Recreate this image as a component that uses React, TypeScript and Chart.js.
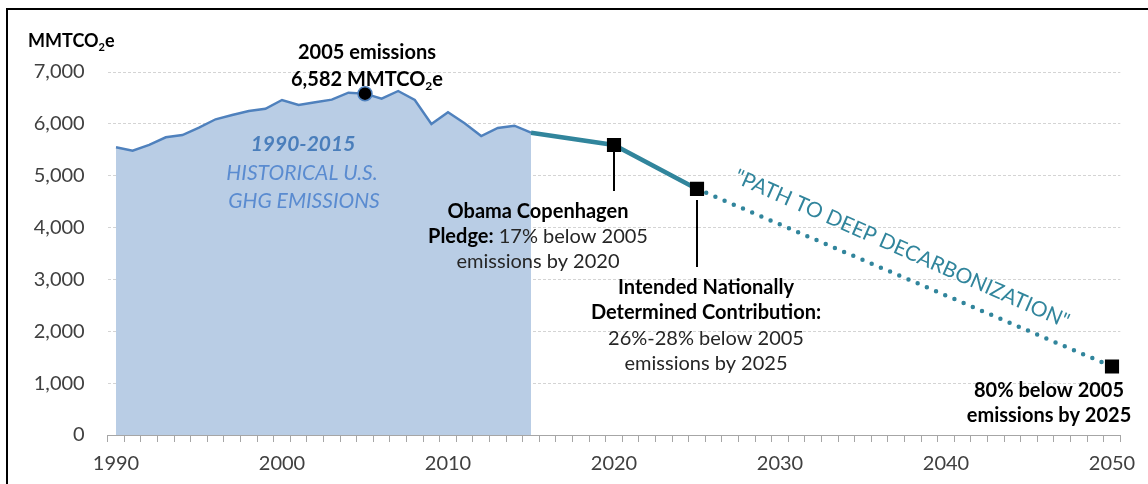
import React, { useEffect, useRef } from "react";
import { Chart, registerables } from "chart.js";

Chart.register(...registerables);

// ---------- data ----------
const histYears = [1990, 1991, 1992, 1993, 1994, 1995, 1996, 1997, 1998, 1999, 2000, 2001, 2002, 2003, 2004, 2005, 2006, 2007, 2008, 2009, 2010, 2011, 2012, 2013, 2014, 2015];
const histValues = [5548, 5483, 5595, 5741, 5785, 5926, 6088, 6171, 6248, 6292, 6460, 6364, 6416, 6466, 6600, 6582, 6485, 6634, 6460, 5997, 6223, 6010, 5766, 5920, 5964, 5829];

const pledgeYears = [2015, 2020, 2025];
const pledgeValues = [5829, 5592, 4745];

const pathYears = [2025, 2050];
const pathValues = [4745, 1320];

const targetYears = [2020, 2025, 2050];
const targetValues = [5592, 4745, 1320];

const peakYear = [2005];
const peakValue = [6582];

const leader2020Years = [2020, 2020];
const leader2020Values = [5455, 4705];
const leader2025Years = [2025, 2025];
const leader2025Values = [4530, 3240];

const yTicks = [0, 1000, 2000, 3000, 4000, 5000, 6000, 7000];
const decadeLabels = [1990, 2000, 2010, 2020, 2030, 2040, 2050];
const xMin = 1989.5;
const xMax = 2050.5;

// ---------- styling ----------
const FONT = 'Lato, "Open Sans", sans-serif';
const TEAL = "#31859C";
const BLUE = "#4F81BD";
const FILL = "#B9CDE5";
const AXIS_GREY = "#A6A6A6";

type Seg = { text: string; bold?: boolean; italic?: boolean; sub?: boolean; color?: string };

function fontFor(s: Seg, size: number) {
  const sz = s.sub ? Math.round(size * 0.62) : size;
  return `${s.italic ? "italic " : ""}${s.bold ? "bold " : ""}${sz}px ${FONT}`;
}

function drawRich(ctx: CanvasRenderingContext2D, segs: Seg[], x: number, y: number, size: number, color: string, align: "left" | "center" | "right") {
  let total = 0;
  const widths = segs.map((s) => {
    ctx.font = fontFor(s, size);
    const w = ctx.measureText(s.text).width;
    total += w;
    return w;
  });
  let cx = align === "center" ? x - total / 2 : align === "right" ? x - total : x;
  ctx.textAlign = "left";
  ctx.textBaseline = "alphabetic";
  segs.forEach((s, i) => {
    ctx.font = fontFor(s, size);
    ctx.fillStyle = s.color || color;
    ctx.fillText(s.text, cx, y + (s.sub ? size * 0.22 : 0));
    cx += widths[i];
  });
}

const annotationPlugin = {
  id: "annotations",
  afterDatasetsDraw(chart: any) {
    const ctx: CanvasRenderingContext2D = chart.ctx;
    ctx.save();
    const B = "#000000";
    const N = "#262626";

    // axis title
    drawRich(ctx, [{ text: "MMTCO", bold: true }, { text: "2", bold: true, sub: true }, { text: "e", bold: true }], 28, 47, 18, B, "left");

    // 2005 emissions
    drawRich(ctx, [{ text: "2005 emissions", bold: true }], 367, 59, 20, B, "center");
    drawRich(ctx, [{ text: "6,582 MMTCO", bold: true }, { text: "2", bold: true, sub: true }, { text: "e", bold: true }], 367, 86, 20, B, "center");

    // historical label
    drawRich(ctx, [{ text: "1990-2015", bold: true, italic: true }], 303, 151, 21, "#4A7EBB", "center");
    drawRich(ctx, [{ text: "HISTORICAL U.S.", italic: true }], 302, 180, 21, "#5A8BD0", "center");
    drawRich(ctx, [{ text: "GHG EMISSIONS", italic: true }], 304, 208, 21, "#5A8BD0", "center");

    // Copenhagen pledge
    drawRich(ctx, [{ text: "Obama Copenhagen", bold: true }], 538, 218, 20, B, "center");
    drawRich(ctx, [{ text: "Pledge:", bold: true }, { text: " 17% below 2005", color: N }], 538, 243, 20, B, "center");
    drawRich(ctx, [{ text: "emissions by 2020" }], 538, 268, 20, N, "center");

    // INDC
    drawRich(ctx, [{ text: "Intended Nationally", bold: true }], 706, 294, 20, B, "center");
    drawRich(ctx, [{ text: "Determined Contribution:", bold: true }], 706, 319, 20, B, "center");
    drawRich(ctx, [{ text: "26%-28% below 2005" }], 706, 345, 20, N, "center");
    drawRich(ctx, [{ text: "emissions by 2025" }], 706, 370, 20, N, "center");

    // 80% target
    drawRich(ctx, [{ text: "80% below 2005", bold: true }], 1049, 397, 20, B, "center");
    drawRich(ctx, [{ text: "emissions by 2025", bold: true }], 1049, 422, 20, B, "center");

    // rotated path label
    ctx.translate(902, 249);
    ctx.rotate((23.8 * Math.PI) / 180);
    ctx.font = `21px ${FONT}`;
    ctx.fillStyle = TEAL;
    ctx.textAlign = "center";
    ctx.textBaseline = "middle";
    ctx.fillText('"PATH TO DEEP DECARBONIZATION"', 0, 0);
    ctx.restore();

    // frame lines
    ctx.save();
    ctx.fillStyle = "#000";
    ctx.fillRect(6, 8, 1142, 2);
    ctx.fillRect(6, 8, 2, 476);
    ctx.restore();
  },
};

const toXY = (xs: number[], ys: number[]) => xs.map((x, i) => ({ x, y: ys[i] }));

export default function App() {
  const ref = useRef<HTMLCanvasElement | null>(null);

  useEffect(() => {
    if (!ref.current) return;
    const halfTicks: number[] = [];
    for (let v = xMin; v <= xMax + 1e-9; v += 1) halfTicks.push(v);

    const chart = new Chart(ref.current, {
      type: "line",
      data: {
        datasets: [
          {
            label: "2005",
            data: toXY(peakYear, peakValue),
            showLine: false,
            pointRadius: 7,
            pointBorderWidth: 1.5,
            pointBackgroundColor: "#000",
            pointBorderColor: BLUE,
            order: 0,
          },
          {
            label: "targets",
            data: toXY(targetYears, targetValues),
            showLine: false,
            pointStyle: "rect",
            pointRadius: 10,
            pointBorderWidth: 0,
            pointBackgroundColor: "#000",
            pointBorderColor: "#000",
            order: 0,
          },
          {
            label: "lead2020",
            data: toXY(leader2020Years, leader2020Values),
            borderColor: "#000",
            borderWidth: 2,
            pointRadius: 0,
            order: 1,
          },
          {
            label: "lead2025",
            data: toXY(leader2025Years, leader2025Values),
            borderColor: "#000",
            borderWidth: 2,
            pointRadius: 0,
            order: 1,
          },
          {
            label: "pledge",
            data: toXY(pledgeYears, pledgeValues),
            borderColor: TEAL,
            borderWidth: 4.5,
            pointRadius: 0,
            order: 2,
          },
          {
            label: "path",
            data: toXY(pathYears, pathValues),
            borderColor: TEAL,
            borderWidth: 4.5,
            borderDash: [0, 10],
            borderCapStyle: "round",
            pointRadius: 0,
            order: 2,
          },
          {
            label: "historical",
            data: toXY(histYears, histValues),
            borderColor: BLUE,
            borderWidth: 2.4,
            backgroundColor: FILL,
            fill: "origin",
            pointRadius: 0,
            tension: 0,
            order: 3,
          },
        ],
      },
      options: {
        animation: false,
        responsive: false,
        events: [],
        layout: { padding: { left: 0, right: 27.7, top: 72, bottom: 0 } },
        plugins: { legend: { display: false }, tooltip: { enabled: false } },
        scales: {
          x: {
            type: "linear",
            min: xMin,
            max: xMax,
            afterBuildTicks: (scale: any) => {
              scale.ticks = [...halfTicks, ...decadeLabels].map((v) => ({ value: v }));
            },
            afterFit: (scale: any) => {
              scale.height = 49;
            },
            grid: {
              drawOnChartArea: false,
              drawTicks: true,
              tickLength: 7,
              tickWidth: 1,
              tickColor: (ctx: any) => (Number.isInteger(ctx.tick?.value) ? "rgba(0,0,0,0)" : AXIS_GREY),
            },
            border: { display: true, color: AXIS_GREY, width: 1 },
            ticks: {
              autoSkip: false,
              maxRotation: 0,
              minRotation: 0,
              padding: 10,
              color: "#404040",
              font: { family: FONT, size: 20 },
              callback: (v: any) => (Number.isInteger(v) ? String(v) : ""),
            },
          },
          y: {
            min: 0,
            max: 7000,
            afterBuildTicks: (scale: any) => {
              scale.ticks = yTicks.map((v) => ({ value: v }));
            },
            afterFit: (scale: any) => {
              scale.width = 107.7;
            },
            grid: { color: "#D4D4D4", lineWidth: 1, drawTicks: false },
            border: { display: false, dash: [3, 2] },
            ticks: {
              padding: 23,
              color: "#404040",
              font: { family: FONT, size: 20 },
              callback: (v: any) => Number(v).toLocaleString("en-US"),
            },
          },
        },
      },
      plugins: [annotationPlugin],
    } as any);
    return () => chart.destroy();
  }, []);

  return (
    <div style={{ position: "absolute", left: 0, top: 0, width: 1148, height: 484, background: "#fff" }}>
      <canvas ref={ref} width={1148} height={484} style={{ width: 1148, height: 484, display: "block" }} />
    </div>
  );
}
